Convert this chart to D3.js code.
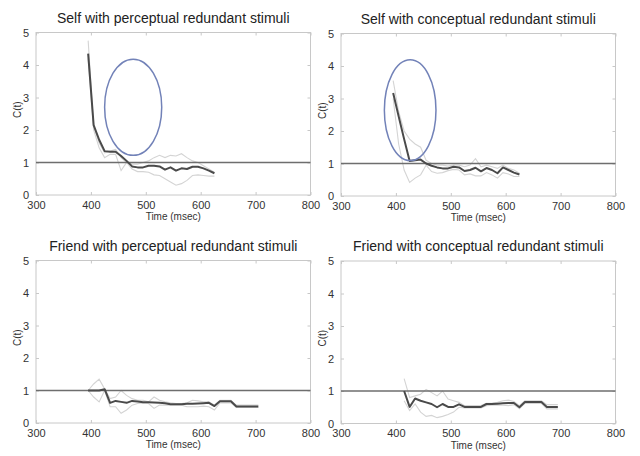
<!DOCTYPE html>
<html>
<head>
<meta charset="utf-8">
<script src="https://cdn.jsdelivr.net/npm/d3@7"></script>
<style>
    body { margin: 0; background: #fff; }
    svg { display: block; font-family: "Liberation Sans", Arial, sans-serif; }
</style>
</head>
<body>
<svg id="chart" width="640" height="456"></svg>
<script>
// panel titles
var titles = [
    "Self with perceptual redundant stimuli",
    "Self with conceptual redundant stimuli",
    "Friend with perceptual redundant stimuli",
    "Friend with conceptual redundant stimuli"
];

// time points (msec)
var timeSelf = [395, 405, 415, 425, 435, 445, 455, 465, 475, 485, 495, 505, 515, 525, 535, 545, 555, 565, 575, 585, 595, 605, 615, 625];
var timeFriendP = [395, 405, 415, 425, 435, 445, 455, 465, 475, 485, 495, 505, 515, 525, 535, 545, 555, 565, 575, 585, 595, 605, 615, 625, 635, 645, 655, 665, 675, 685, 695, 705];
var timeFriendC = [415, 425, 435, 445, 455, 465, 475, 485, 495, 505, 515, 525, 535, 545, 555, 565, 575, 585, 595, 605, 615, 625, 635, 645, 655, 665, 675, 685, 695];

// C(t) estimates and upper / lower bounds
var selfPercMean = [4.35, 2.15, 1.7, 1.35, 1.33, 1.33, 1.2, 1.05, 0.88, 0.85, 0.85, 0.9, 0.9, 0.88, 0.78, 0.85, 0.75, 0.82, 0.8, 0.87, 0.87, 0.82, 0.75, 0.67];
var selfPercUpper = [4.75, 2.1, 1.6, 1.3, 1.35, 1.4, 1.15, 1.0, 0.95, 0.95, 1.0, 1.05, 1.15, 1.22, 1.15, 1.22, 1.2, 1.27, 1.15, 1.05, 1.0, 0.9, 0.8, 0.7];
var selfPercLower = [4.2, 2.0, 1.45, 1.15, 1.25, 1.25, 0.75, 1.0, 0.8, 0.72, 0.72, 0.7, 0.62, 0.6, 0.5, 0.4, 0.3, 0.35, 0.45, 0.6, 0.62, 0.6, 0.58, 0.58];

var selfConcMean = [3.17, 2.45, 1.75, 1.08, 1.1, 1.12, 1.0, 0.93, 0.88, 0.85, 0.85, 0.9, 0.88, 0.77, 0.8, 0.87, 0.76, 0.86, 0.8, 0.7, 0.88, 0.8, 0.72, 0.66];
var selfConcUpper = [3.55, 2.6, 2.0, 1.75, 1.6, 1.5, 1.1, 1.0, 0.95, 0.95, 0.92, 0.95, 0.95, 0.9, 0.95, 1.15, 0.9, 0.95, 0.9, 0.85, 0.95, 0.85, 0.8, 0.7];
var selfConcLower = [3.0, 1.6, 0.8, 0.42, 0.55, 0.65, 0.95, 0.75, 0.7, 0.72, 0.78, 0.82, 0.8, 0.65, 0.68, 0.62, 0.62, 0.72, 0.65, 0.55, 0.72, 0.68, 0.6, 0.6];

var friendPercMean = [1.0, 1.0, 1.0, 1.04, 0.62, 0.68, 0.65, 0.62, 0.68, 0.66, 0.64, 0.64, 0.63, 0.62, 0.61, 0.58, 0.58, 0.58, 0.59, 0.59, 0.6, 0.61, 0.62, 0.52, 0.67, 0.67, 0.67, 0.51, 0.51, 0.51, 0.51, 0.51];
var friendPercUpper = [1.0, 1.2, 1.35, 1.05, 0.75, 0.8, 1.0, 0.85, 0.75, 0.7, 0.7, 0.65, 0.8, 0.7, 0.65, 0.62, 0.6, 0.6, 0.62, 0.7, 0.68, 0.65, 0.65, 0.55, 0.7, 0.7, 0.7, 0.55, 0.55, 0.55, 0.55, 0.55];
var friendPercLower = [1.0, 0.8, 0.65, 1.0, 0.5, 0.5, 0.3, 0.4, 0.55, 0.6, 0.62, 0.6, 0.45, 0.55, 0.55, 0.55, 0.55, 0.55, 0.5, 0.5, 0.5, 0.52, 0.5, 0.4, 0.62, 0.62, 0.62, 0.48, 0.48, 0.48, 0.48, 0.48];

var friendConcMean = [1.0, 0.51, 0.77, 0.7, 0.65, 0.6, 0.5, 0.6, 0.51, 0.51, 0.59, 0.51, 0.51, 0.51, 0.51, 0.6, 0.6, 0.61, 0.62, 0.63, 0.63, 0.5, 0.66, 0.66, 0.66, 0.66, 0.51, 0.51, 0.51];
var friendConcUpper = [1.38, 0.8, 0.85, 0.9, 1.05, 0.95, 0.85, 1.0, 0.75, 0.7, 0.65, 0.55, 0.55, 0.55, 0.55, 0.62, 0.63, 0.65, 0.7, 0.72, 0.68, 0.55, 0.7, 0.7, 0.7, 0.7, 0.58, 0.58, 0.58];
var friendConcLower = [0.7, 0.4, 0.6, 0.35, 0.22, 0.25, 0.18, 0.22, 0.28, 0.35, 0.5, 0.48, 0.48, 0.48, 0.48, 0.55, 0.56, 0.57, 0.56, 0.55, 0.58, 0.45, 0.62, 0.62, 0.62, 0.62, 0.45, 0.45, 0.45];

// highlight ellipses: [centre time, centre C(t), radius time, radius C(t)]
var ellipseSelfPerc = [477, 2.7, 52, 1.48];
var ellipseSelfConc = [426, 2.64, 47, 1.55];

var xTicks = [300, 400, 500, 600, 700, 800];
var yTicks = [0, 1, 2, 3, 4, 5];
var refLevel = 1;

var panels = [
    { title: titles[0], t: timeSelf, mean: selfPercMean, up: selfPercUpper, lo: selfPercLower, ell: ellipseSelfPerc, x0: 36, y0: 32.5 },
    { title: titles[1], t: timeSelf, mean: selfConcMean, up: selfConcUpper, lo: selfConcLower, ell: ellipseSelfConc, x0: 341, y0: 33.5 },
    { title: titles[2], t: timeFriendP, mean: friendPercMean, up: friendPercUpper, lo: friendPercLower, ell: null, x0: 36, y0: 260.5 },
    { title: titles[3], t: timeFriendC, mean: friendConcMean, up: friendConcUpper, lo: friendConcLower, ell: null, x0: 341, y0: 261 }
];

var w = 274.5, h = 162.5;
var svg = d3.select("#chart");

panels.forEach(function (p) {
    var g = svg.append("g")
        .attr("transform", "translate(" + p.x0 + "," + p.y0 + ")");

    var xScale = d3.scaleLinear().domain([300, 800]).range([0, w]);
    var yScale = d3.scaleLinear().domain([0, 5]).range([h, 0]);

    // frame
    g.append("rect")
        .attr("width", w)
        .attr("height", h)
        .attr("fill", "none")
        .attr("stroke", "#c8c8c8")
        .attr("stroke-width", 1);

    // inward ticks on every side (matlab style)
    var mk = function (axis, tr) {
        var a = g.append("g").attr("transform", tr).call(axis);
        a.select(".domain").remove();
        a.selectAll("line").attr("stroke", "#c8c8c8");
        a.selectAll("text")
            .attr("fill", "#333")
            .style("font-size", "11px")
            .style("font-family", "Liberation Sans, Arial, sans-serif");
        return a;
    };
    mk(d3.axisBottom(xScale).tickValues(xTicks).tickSizeInner(-3).tickSizeOuter(0).tickPadding(6), "translate(0," + h + ")");
    mk(d3.axisLeft(yScale).tickValues(yTicks).tickFormat(d3.format("d")).tickSizeInner(-3).tickSizeOuter(0).tickPadding(7), "translate(0,0)");
    mk(d3.axisTop(xScale).tickValues(xTicks).tickSizeInner(-3).tickSizeOuter(0).tickFormat(""), "translate(0,0)");
    mk(d3.axisRight(yScale).tickValues(yTicks).tickSizeInner(-3).tickSizeOuter(0).tickFormat(""), "translate(" + w + ",0)");

    var line = d3.line()
        .x(function (d) { return xScale(d[0]); })
        .y(function (d) { return yScale(d[1]); });

    // bounds
    [p.up, p.lo].forEach(function (arr) {
        g.append("path")
            .datum(p.t.map(function (t, i) { return [t, arr[i]]; }))
            .attr("d", line)
            .attr("fill", "none")
            .attr("stroke", "#d4d4d4")
            .attr("stroke-width", 1.1);
    });

    // reference line at C(t) = 1
    g.append("line")
        .attr("x1", 0)
        .attr("x2", w)
        .attr("y1", yScale(refLevel))
        .attr("y2", yScale(refLevel))
        .attr("stroke", "#6e6e6e")
        .attr("stroke-width", 1.3);

    // estimate
    g.append("path")
        .datum(p.t.map(function (t, i) { return [t, p.mean[i]]; }))
        .attr("d", line)
        .attr("fill", "none")
        .attr("stroke", "#4a4a4a")
        .attr("stroke-width", 2)
        .attr("stroke-linejoin", "round");

    if (p.ell) {
        g.append("ellipse")
            .attr("cx", xScale(p.ell[0]))
            .attr("cy", yScale(p.ell[1]))
            .attr("rx", xScale(p.ell[0] + p.ell[2]) - xScale(p.ell[0]))
            .attr("ry", yScale(0) - yScale(p.ell[3]))
            .attr("fill", "none")
            .attr("stroke", "#7282b8")
            .attr("stroke-width", 1.5);
    }

    // titles and labels
    g.append("text")
        .attr("x", w / 2)
        .attr("y", -10)
        .attr("text-anchor", "middle")
        .attr("fill", "#222")
        .style("font-size", "14px")
        .text(p.title);

    g.append("text")
        .attr("x", w / 2)
        .attr("y", h + 25)
        .attr("text-anchor", "middle")
        .attr("fill", "#333")
        .style("font-size", "10px")
        .text("Time (msec)");

    g.append("text")
        .attr("transform", "translate(-15," + (h / 2 - 4) + ") rotate(-90)")
        .attr("text-anchor", "middle")
        .attr("fill", "#333")
        .style("font-size", "10px")
        .text("C(t)");
});
</script>
</body>
</html>
